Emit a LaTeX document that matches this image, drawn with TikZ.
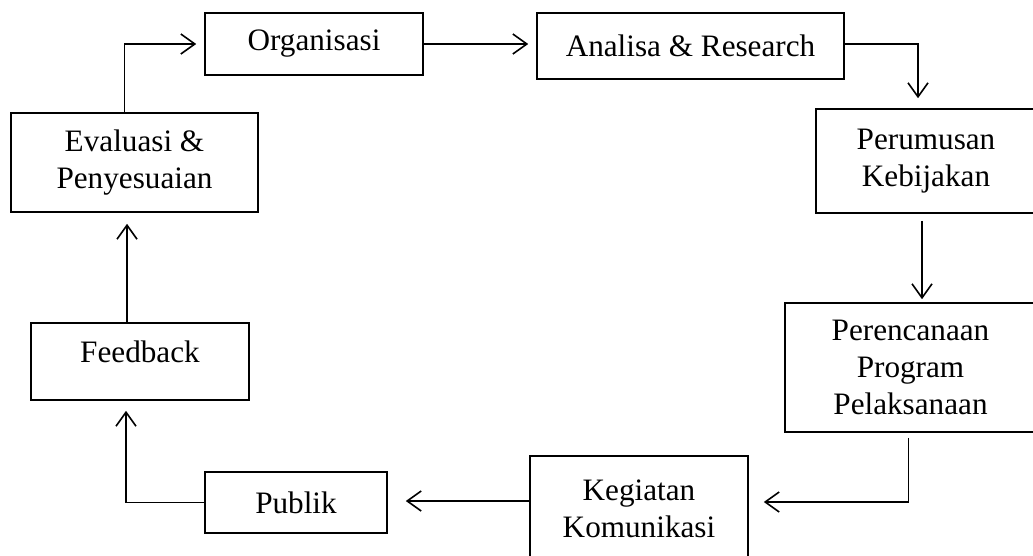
\documentclass[tikz,border=0pt]{standalone}
\usepackage{fontspec}
\setmainfont{Liberation Serif}
\usepackage{tikz}
\usetikzlibrary{arrows.meta, positioning, calc}

\begin{document}
\begin{tikzpicture}[
    x=0.5pt, y=-0.5pt,
    box/.style={rectangle, draw, line width=0.8pt, align=center, text centered, inner sep=2pt,
        font=\fontsize{15.6}{18.5}\selectfont, text=black},
    flow/.style={draw, line width=0.8pt, -{Straight Barb[length=7pt,width=10pt]}}
]
\useasboundingbox (0,0) rectangle (1033,556);
% top row
\node[box, minimum width=109pt, minimum height=31pt] (org) at (314,44) {Organisasi};
\node[box, minimum width=153.5pt, minimum height=33pt] (ana) at (690.5,46) {Analisa \& Research};
% right column
\node[box, minimum width=110pt, minimum height=52pt] (per) at (926,161) {Perumusan\\Kebijakan};
\node[box, minimum width=125.5pt, minimum height=64.5pt] (pel) at (910.5,367.5) {Perencanaan\\Program\\Pelaksanaan};
% bottom row
\node[box, minimum width=109pt, minimum height=53pt] (keg) at (639,509) {Kegiatan\\Komunikasi};
\node[box, minimum width=91pt, minimum height=30.5pt] (pub) at (296,502.5) {Publik};
% left column
\node[box, minimum width=109pt, minimum height=38.5pt, text depth=10pt] (fb) at (140,361.5) {Feedback};
\node[box, minimum width=123.5pt, minimum height=49.5pt] (eva) at (134.5,162.5) {Evaluasi \&\\Penyesuaian};

% connectors
\draw[flow, shorten >=4pt] ([xshift=-5pt]eva.north) |- (org.west);
\draw[flow, shorten >=4pt] (org.east) -- (org.east -| ana.west);
\draw[flow, shorten >=5pt] ([yshift=1pt]ana.east) -| ([xshift=-4pt]per.north);
\draw[flow, shorten <=3.5pt, shorten >=1.5pt] ([xshift=-2pt]per.south) -- ([xshift=-2pt]per.south |- pel.north);
\draw[flow, shorten <=2.5pt, shorten >=7.5pt] ([xshift=-1pt]pel.south) |- ([yshift=3.5pt]keg.east);
\draw[flow, shorten >=9pt] ([yshift=4pt]keg.west) -- ([yshift=4pt]keg.west -| pub.east);
\draw[flow, shorten >=5pt] (pub.west) -| ([xshift=-7pt]fb.south);
\draw[flow, shorten >=5.5pt] ([xshift=-6.5pt]fb.north) -- ([xshift=-6.5pt]fb.north |- eva.south);
\end{tikzpicture}
\end{document}
